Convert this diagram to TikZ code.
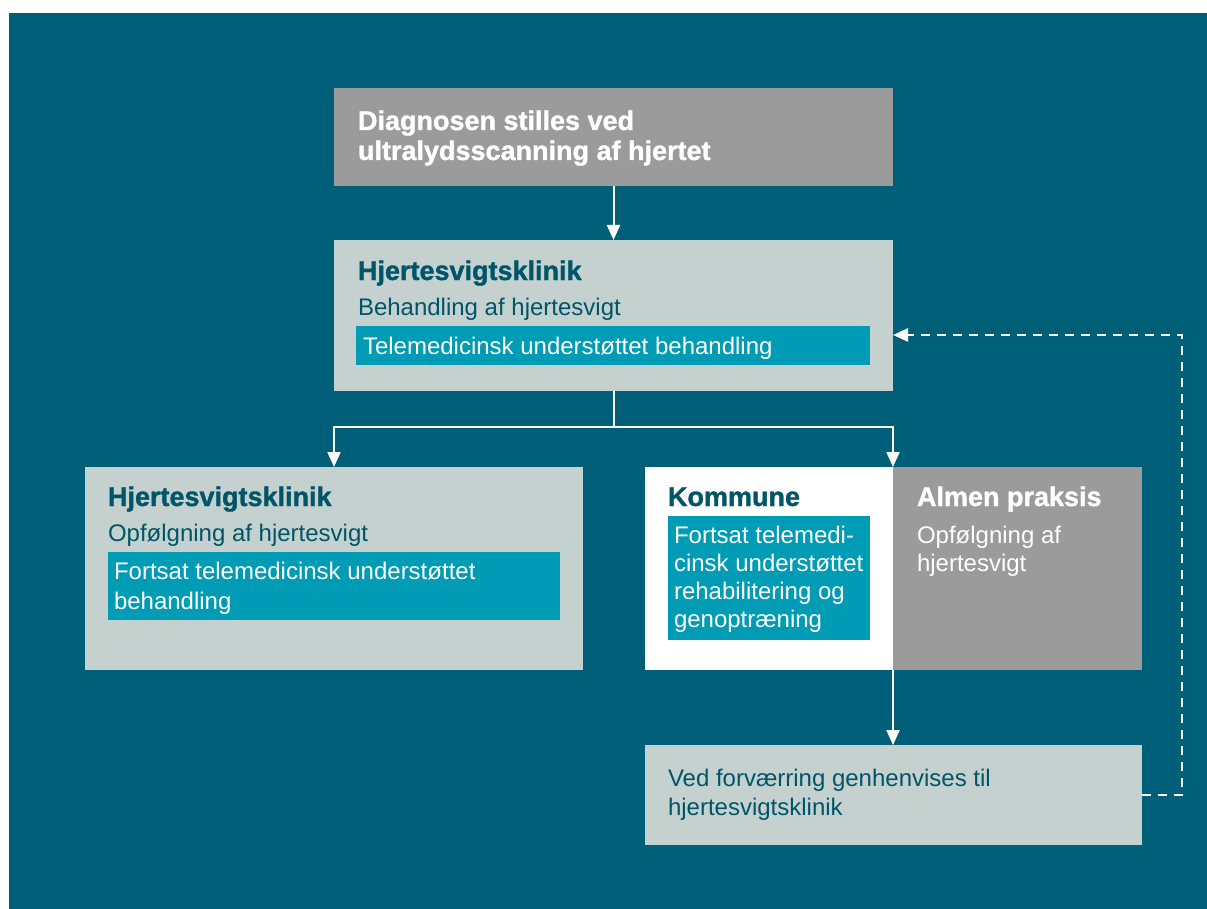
\documentclass[tikz,border=0pt]{standalone}
\usepackage{fontspec}
\setmainfont{Liberation Sans}[BoldFeatures={FakeBold=1.2}]
\usetikzlibrary{arrows.meta}
\definecolor{bg}{RGB}{0,95,120}
\definecolor{boxgray}{RGB}{155,155,155}
\definecolor{boxlight}{RGB}{196,209,207}
\definecolor{tealin}{RGB}{0,155,180}
\definecolor{darktxt}{RGB}{0,85,105}
\begin{document}
\begin{tikzpicture}[x=1pt,y=-1pt,
  box/.style={draw=none,inner sep=0pt,outer sep=0pt,anchor=north west,rectangle},
  ln/.style={anchor=base west,inner sep=0pt,outer sep=0pt,font=\fontsize{24}{28}\selectfont},
  hd/.style={anchor=base west,inner sep=0pt,outer sep=0pt,font=\fontsize{27}{30}\selectfont\bfseries},
  conn/.style={draw=white,line width=2pt},
  arr/.style={conn,-{Triangle[width=13pt,length=15pt]}},
  darr/.style={draw=white,line width=2.5pt,dash pattern=on 9pt off 7pt,-{Triangle[width=13pt,length=15pt]}}
]
\useasboundingbox (0,0) rectangle (1207,909);
\fill[white] (0,0) rectangle (1207,909);
\fill[bg] (9,13) rectangle (1207,909);

% boxes
\node[box,fill=boxgray,minimum width=559pt,minimum height=98pt] (b1) at (334,88) {};
\node[box,fill=boxlight,minimum width=559pt,minimum height=151pt] (b2) at (334,240) {};
\node[box,fill=tealin,minimum width=514pt,minimum height=39pt] (b2t) at (356,326) {};
\node[box,fill=boxlight,minimum width=498pt,minimum height=203pt] (b3) at (85,467) {};
\node[box,fill=tealin,minimum width=452pt,minimum height=68pt] (b3t) at (108,552) {};
\node[box,fill=white,minimum width=248pt,minimum height=203pt] (kom) at (645,467) {};
\node[box,fill=tealin,minimum width=202pt,minimum height=124pt] (komt) at (668,516) {};
\node[box,fill=boxgray,minimum width=249pt,minimum height=203pt] (alm) at (893,467) {};
\node[box,fill=boxlight,minimum width=497pt,minimum height=100pt] (bot) at (645,745) {};

% texts
\node[hd,text=white] (t1a) at (358,130) {Diagnosen stilles ved};
\node[hd,text=white] (t1b) at (358,160) {ultralydsscanning af hjertet};

\node[hd,text=darktxt] (t2a) at (358,280) {Hjertesvigtsklinik};
\node[ln,text=darktxt] (t2b) at (358,315) {Behandling af hjertesvigt};
\node[ln,text=white] (t2c) at (363,354) {Telemedicinsk understøttet behandling};

\node[hd,text=darktxt] (t3a) at (108,506) {Hjertesvigtsklinik};
\node[ln,text=darktxt] (t3b) at (108,541) {Opfølgning af hjertesvigt};
\node[ln,text=white] (t3c) at (114,579) {Fortsat telemedicinsk understøttet};
\node[ln,text=white] (t3d) at (114,609) {behandling};

\node[hd,text=darktxt] (t4a) at (668,506) {Kommune};
\node[ln,text=white] (t4b) at (674,543) {Fortsat telemedi-};
\node[ln,text=white] (t4c) at (674,571) {cinsk understøttet};
\node[ln,text=white] (t4d) at (674,599) {rehabilitering og};
\node[ln,text=white] (t4e) at (674,627) {genoptræning};

\node[hd,text=white] (t5a) at (917,506) {Almen praksis};
\node[ln,text=white] (t5b) at (917,543) {Opfølgning af};
\node[ln,text=white] (t5c) at (917,571) {hjertesvigt};

\node[ln,text=darktxt] (t6a) at (668,786) {Ved forværring genhenvises til};
\node[ln,text=darktxt] (t6b) at (668,815) {hjertesvigtsklinik};

% connectors
\draw[arr] (b1.south) -- (b2.north);
\draw[conn] (b2.south) -- ++(0,36) coordinate (split);
\draw[arr] (split) -| (b3.north);
\draw[arr] (split) -| (kom.north east);
\draw[arr] (kom.south east) -- (kom.south east |- bot.north);
\draw[darr] (bot.east) -- ++(40,0) coordinate (dc) |- ([yshift=-19.5pt]b2.east);
\end{tikzpicture}
\end{document}
